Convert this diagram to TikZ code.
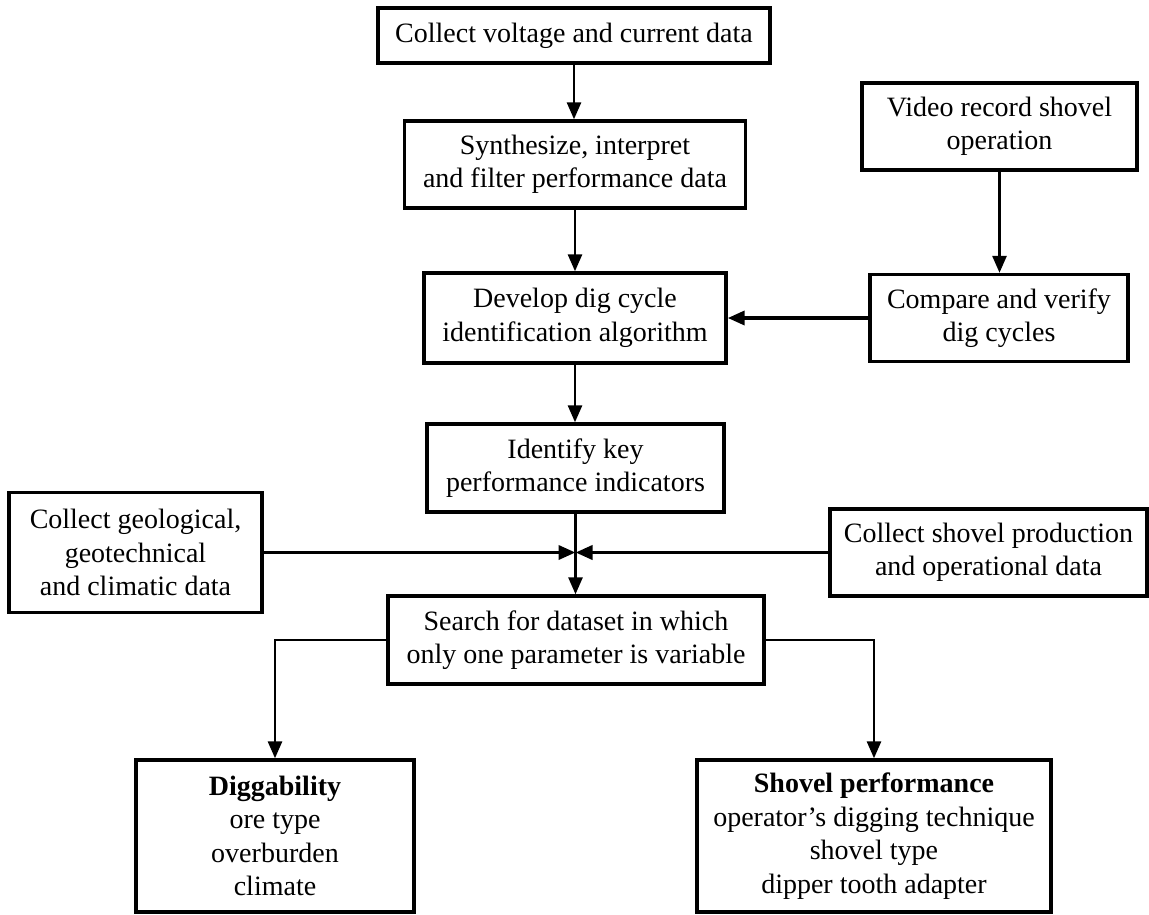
\documentclass[tikz,border=0pt]{standalone}
\usepackage{fontspec}
\setmainfont{Liberation Serif}
\usetikzlibrary{arrows.meta}
\begin{document}
\begin{tikzpicture}[x=1pt,y=-1pt,
  box/.style={draw, line width=3.4pt, align=center, inner sep=0pt,
    font=\fontsize{28}{33.5}\selectfont},
  arr/.style={line width=2.8pt, -{Triangle[length=17pt,width=14pt]}},
  harr/.style={line width=3.6pt, -{Triangle[length=17pt,width=14pt]}}]
\useasboundingbox (0,0) rectangle (1149,914);

\node[box, minimum width=392pt, minimum height=55pt] (b1) at (574,35.5) {Collect voltage and current data};
\node[box, minimum width=341pt, minimum height=87pt] (b2) at (575,164.5) {Synthesize, interpret\\and filter performance data};
\node[box, minimum width=275pt, minimum height=87pt] (video) at (999.5,126.5) {Video record shovel\\operation};
\node[box, minimum width=302pt, minimum height=90pt] (dev) at (575,318) {Develop dig cycle\\identification algorithm};
\node[box, minimum width=258pt, minimum height=87pt] (cmp) at (999,318) {Compare and verify\\dig cycles};
\node[box, minimum width=297pt, minimum height=88pt] (kpi) at (575.5,468) {Identify key\\performance indicators};
\node[box, minimum width=253pt, minimum height=120pt] (geo) at (135.5,552.5) {Collect geological,\\geotechnical\\and climatic data};
\node[box, minimum width=317pt, minimum height=87pt] (prod) at (988.5,552.5) {Collect shovel production\\and operational data};
\node[box, minimum width=376pt, minimum height=88pt] (srch) at (576,640) {Search for dataset in which\\only one parameter is variable};
\node[box, minimum width=278pt, minimum height=152pt] (dig) at (275,836) {\textbf{Diggability}\\ore type\\overburden\\climate};
\node[box, minimum width=354pt, minimum height=152pt] (perf) at (874,836) {\textbf{Shovel performance}\\operator’s digging technique\\shovel type\\dipper tooth adapter};

\coordinate (jn) at (575.5,552.5);

\draw[arr] (b1.south) -- (b1.south |- b2.north);
\draw[arr] (b2.south) -- (b2.south |- dev.north);
\draw[arr] (video.south) -- (video.south |- cmp.north);
\draw[harr] (cmp.west) -- (dev.east);
\draw[arr] (dev.south) -- (dev.south |- kpi.north);
\draw[arr] (kpi.south) -- (kpi.south |- srch.north);
\draw[harr] (geo.east) -- (jn);
\draw[harr] (prod.west) -- (jn);
\draw[arr] (srch.west) -| (dig.north);
\draw[arr] (srch.east) -| (perf.north);
\end{tikzpicture}
\end{document}
